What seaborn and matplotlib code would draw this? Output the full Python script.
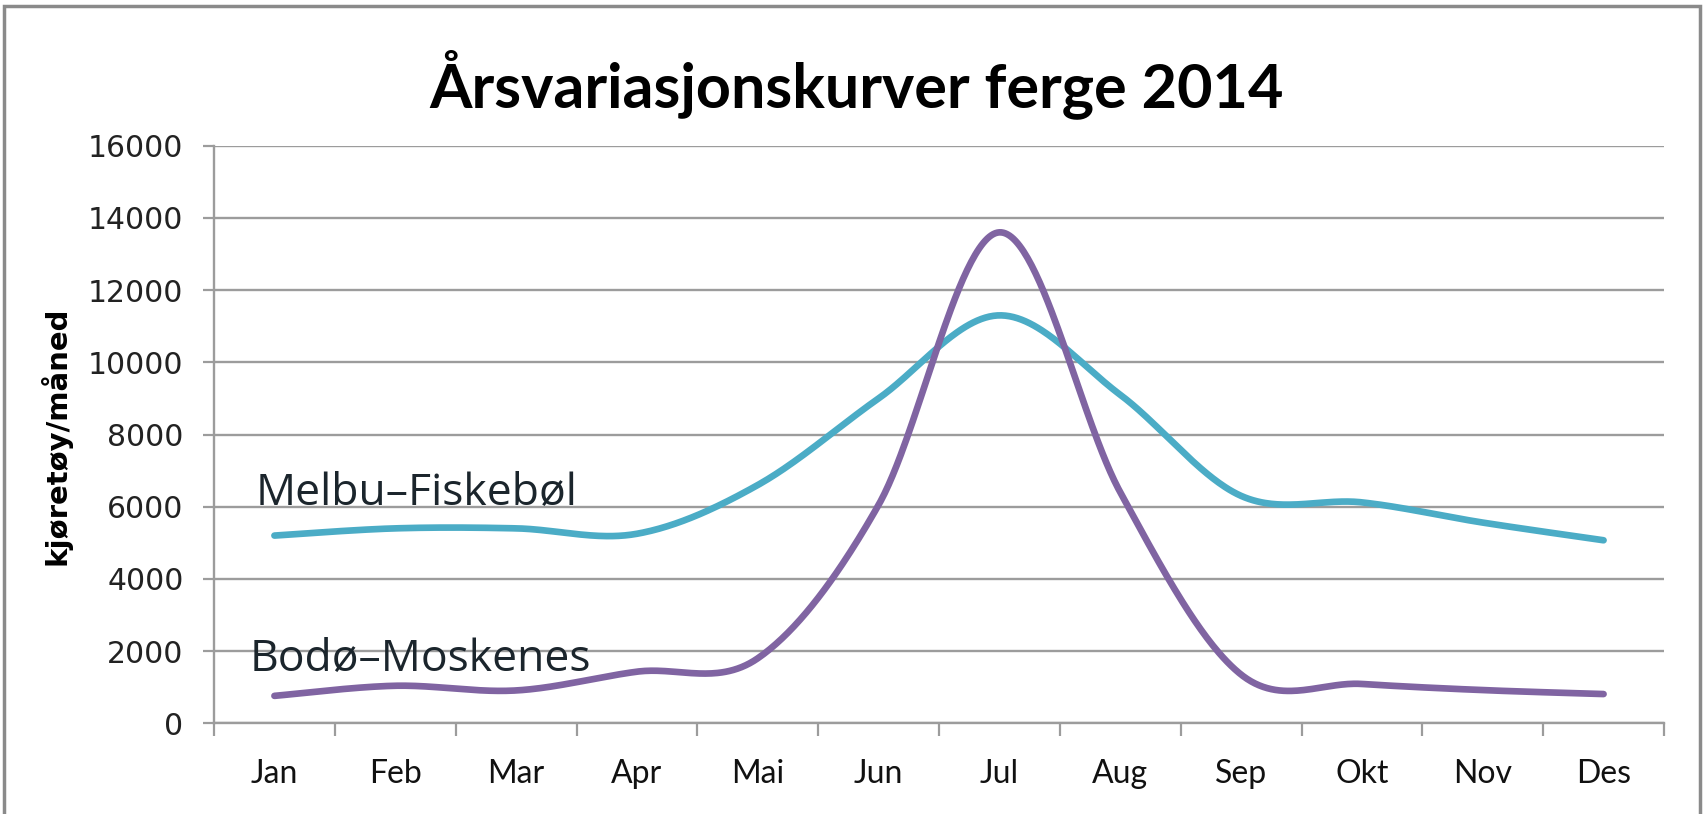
import numpy as np
import pandas as pd
import matplotlib
matplotlib.use("Agg")
import matplotlib.pyplot as plt
from matplotlib.patches import Rectangle
import seaborn as sns

months = ["Jan", "Feb", "Mar", "Apr", "Mai", "Jun", "Jul", "Aug", "Sep", "Okt", "Nov", "Des"]
melbu_fiskebol = [5200, 5400, 5400, 5250, 6600, 9000, 11300, 9100, 6300, 6120, 5560, 5070]
bodo_moskenes = [760, 1040, 910, 1430, 1800, 6050, 13600, 6400, 1350, 1090, 920, 810]
series_names = ["Melbu–Fiskebøl", "Bodø–Moskenes"]
title = "Årsvariasjonskurver ferge 2014"
ylabel = "kjøretøy/måned"
yticks = [0, 2000, 4000, 6000, 8000, 10000, 12000, 14000, 16000]

C_CYAN = "#4bacc6"
C_PURPLE = "#8064a2"
GRID = "#9c9c9c"


def smooth(vals, n=60):
    """Excel-like smoothed line: cubic Bezier segments through data points."""
    y = np.asarray(vals, dtype=float)
    x = np.arange(len(y), dtype=float)
    P = np.column_stack([x, y])
    out = []
    for i in range(len(P) - 1):
        p0 = P[i - 1] if i > 0 else P[i]
        p1 = P[i]
        p2 = P[i + 1]
        p3 = P[i + 2] if i + 2 < len(P) else P[i + 1]
        c1 = p1 + (p2 - p0) / 6.0
        c2 = p2 - (p3 - p1) / 6.0
        t = np.linspace(0, 1, n, endpoint=(i == len(P) - 2))[:, None]
        seg = ((1 - t) ** 3) * p1 + 3 * ((1 - t) ** 2) * t * c1 + 3 * (1 - t) * t ** 2 * c2 + t ** 3 * p2
        out.append(seg)
    pts = np.vstack(out)
    return pts[:, 0], pts[:, 1]


sns.set_theme(style="white")
plt.rcParams["font.family"] = ["DejaVu Sans"]

fig = plt.figure(figsize=(17.07, 8.14), dpi=100)
ax = fig.add_axes([214 / 1707, 1 - 723.3 / 814, (1664 - 214) / 1707, (723.3 - 145.7) / 814])

frames = []
for name, vals in zip(series_names, [melbu_fiskebol, bodo_moskenes]):
    xs, ys = smooth(vals)
    frames.append(pd.DataFrame({"x": xs, "y": ys, "serie": name, "order": np.arange(len(xs))}))
df = pd.concat(frames, ignore_index=True)

sns.lineplot(data=df, x="x", y="y", hue="serie", palette=[C_CYAN, C_PURPLE],
             units="serie", estimator=None, sort=False, linewidth=4.8, ax=ax, legend=False)
for ln in ax.lines:
    ln.set_solid_capstyle("round")
    ln.set_zorder(3)

ax.set_xlim(-0.5, len(months) - 0.5)
ax.set_ylim(0, 16000)
ax.set_yticks(yticks)
ax.set_yticklabels([str(v) for v in yticks], fontsize=21.5, color="#222222", family="DejaVu Sans")
ax.set_xticks(range(len(months)))
ax.set_xticklabels(months, fontsize=23, color="#111111", family="Lato")
ax.set_xticks(np.arange(-0.5, len(months), 1.0), minor=True)
ax.tick_params(axis="x", which="major", length=0, pad=26)
ax.tick_params(axis="x", which="minor", length=9, width=1.6, color=GRID, direction="out", bottom=True)
ax.tick_params(axis="y", which="major", length=8, width=1.6, color=GRID, direction="out", left=True, pad=14)

ax.grid(axis="y", color=GRID, linewidth=1.7, zorder=0)
ax.grid(axis="x", visible=False)
for s in ["top", "right"]:
    ax.spines[s].set_visible(False)
for s in ["left", "bottom"]:
    ax.spines[s].set_color(GRID)
    ax.spines[s].set_linewidth(1.7)
ax.set_xlabel("")
ax.set_ylabel("")

fig.text(0.502, 0.897, title, ha="center", va="center", fontsize=44, fontweight="bold",
         family="Lato", color="#000000")
fig.text(56 / 1707, 1 - 436 / 814, ylabel, rotation=90, ha="center", va="center",
         fontsize=21, fontweight="bold", family="DejaVu Sans", color="#000000")

ax.text(-0.152, 6050, series_names[0], ha="left", va="baseline", fontsize=32,
        family="Open Sans", color="#1b252c", zorder=4)
ax.text(-0.202, 1450, series_names[1], ha="left", va="baseline", fontsize=32,
        family="Open Sans", color="#1b252c", zorder=4)

# outer chart-area frame
fig.patches.append(Rectangle((4 / 1707, -0.02), (1700 - 4) / 1707, 1.02 - 6 / 814,
                             transform=fig.transFigure, fill=False, edgecolor="#8a8a8a",
                             linewidth=2.5, zorder=0))

fig.savefig("out.png", dpi=100, facecolor="white")
